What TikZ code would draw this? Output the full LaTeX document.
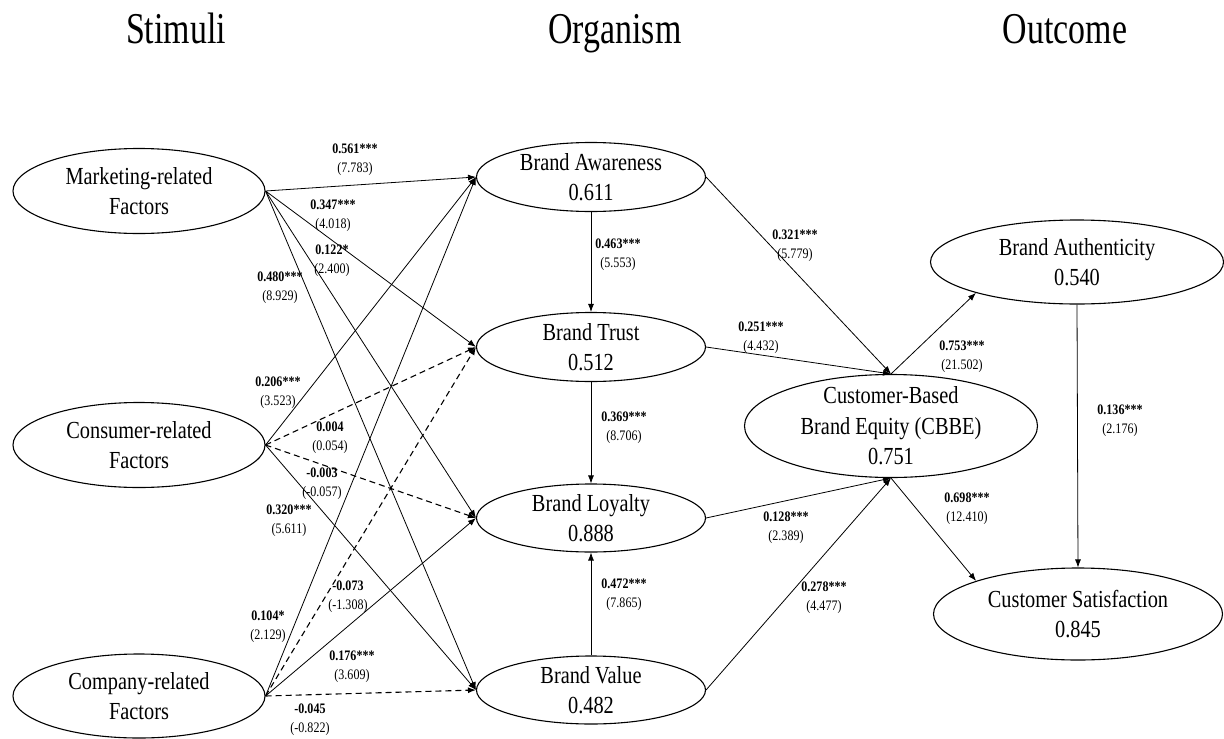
\documentclass[tikz,border=0pt]{standalone}
\usepackage{fontspec}
\setmainfont[FakeStretch=0.83]{Liberation Serif}
\newfontfamily\titlefont[FakeStretch=0.77]{Liberation Serif}
\usetikzlibrary{shapes.geometric,arrows.meta}

\begin{document}
\begin{tikzpicture}[
    x=1pt, y=-1pt,
    latent/.style={ellipse, draw, line width=1.1pt, inner sep=0pt},
    every label/.style={align=center, inner sep=0pt, font=\fontsize{24.5}{30.5}\selectfont},
    heading/.style={anchor=base, font=\titlefont\fontsize{44}{50}\selectfont},
    coef/.style={align=center, inner sep=0pt, font=\fontsize{14.5}{19}\selectfont},
    link/.style={-{Latex[length=8pt,width=6pt]}, line width=0.8pt},
    nolink/.style={link, dash pattern=on 6pt off 4pt, line width=1.1pt}
  ]
  \useasboundingbox (0,0) rectangle (1224,739);

  % headings
  \node[heading] (stim) at (176,43) {Stimuli};
  \node[heading] (org) at (615,43) {Organism};
  \node[heading] (outc) at (1065,43) {Outcome};

  % stimuli
  \node[latent, minimum width=252pt, minimum height=85pt,
        label={center:Marketing-related\\Factors}] (mkt) at (139,191) {};
  \node[latent, minimum width=252pt, minimum height=85pt,
        label={center:Consumer-related\\Factors}] (con) at (139,445) {};
  \node[latent, minimum width=252pt, minimum height=84pt,
        label={center:Company-related\\Factors}] (com) at (139,696) {};

  % organism
  \node[latent, minimum width=229pt, minimum height=69pt,
        label={center:Brand Awareness\\0.611}] (aw) at (591,177) {};
  \node[latent, minimum width=229pt, minimum height=69pt,
        label={center:Brand Trust\\0.512}] (tr) at (591,347) {};
  \node[latent, minimum width=229pt, minimum height=68pt,
        label={center:Brand Loyalty\\0.888}] (lo) at (591,518) {};
  \node[latent, minimum width=229pt, minimum height=68pt,
        label={center:Brand Value\\0.482}] (va) at (591,690) {};

  % outcome
  \node[latent, minimum width=293pt, minimum height=103pt,
        label={center:Customer-Based\\Brand Equity (CBBE)\\0.751}] (cbbe) at (891,426) {};
  \node[latent, minimum width=293pt, minimum height=84pt,
        label={center:Brand Authenticity\\0.540}] (auth) at (1077,262) {};
  \node[latent, minimum width=289pt, minimum height=92pt,
        label={center:Customer Satisfaction\\0.845}] (sat) at (1078,614) {};

  % paths
  \foreach \a/\b in {mkt/aw, mkt/tr, mkt/lo, mkt/va, con/aw, con/va, com/aw, com/lo}
    \draw[link] (\a.east) -- (\b.west);
  \foreach \a/\b in {con/tr, con/lo, com/tr, com/va}
    \draw[nolink] (\a.east) -- (\b.west);
  \draw[link] (aw) -- (tr);
  \draw[link] (tr) -- (lo);
  \draw[link] (va) -- (lo);
  \draw[link] (aw.east) -- (cbbe.north);
  \draw[link] (tr.east) -- (cbbe.north);
  \draw[link] (lo.east) -- (cbbe.south);
  \draw[link] (va.east) -- (cbbe.south);
  \draw[link] (cbbe.north) -- (auth.197);
  \draw[link] (cbbe.south) -- (sat.162);
  \draw[link] (auth.south) -- (sat.north);

  % coefficients (t-values)
  \foreach \nm/\px/\py/\bv/\tv in {
      c1/355/160/0.561***/7.783, c2/333/216/0.347***/4.018,
      c3/332/261/0.122*/2.400, c4/280/288/0.480***/8.929,
      c5/278/393/0.206***/3.523, c6/330/438/0.004/0.054,
      c7/322/484/-0.003/-0.057, c8/289/521/0.320***/5.611,
      c9/268/627/0.104*/2.129, c10/348/597/-0.073/-1.308,
      c11/352/667/0.176***/3.609, c12/310/720/-0.045/-0.822,
      c13/618/255/0.463***/5.553, c14/624/428/0.369***/8.706,
      c15/624/595/0.472***/7.865, c16/795/246/0.321***/5.779,
      c17/761/338/0.251***/4.432, c18/786/528/0.128***/2.389,
      c19/824/598/0.278***/4.477, c20/962/357/0.753***/21.502,
      c21/967/509/0.698***/12.410, c22/1120/421/0.136***/2.176}
    \node[coef] (\nm) at (\px,\py) {\textbf{\bv}\\(\tv)};
\end{tikzpicture}
\end{document}
